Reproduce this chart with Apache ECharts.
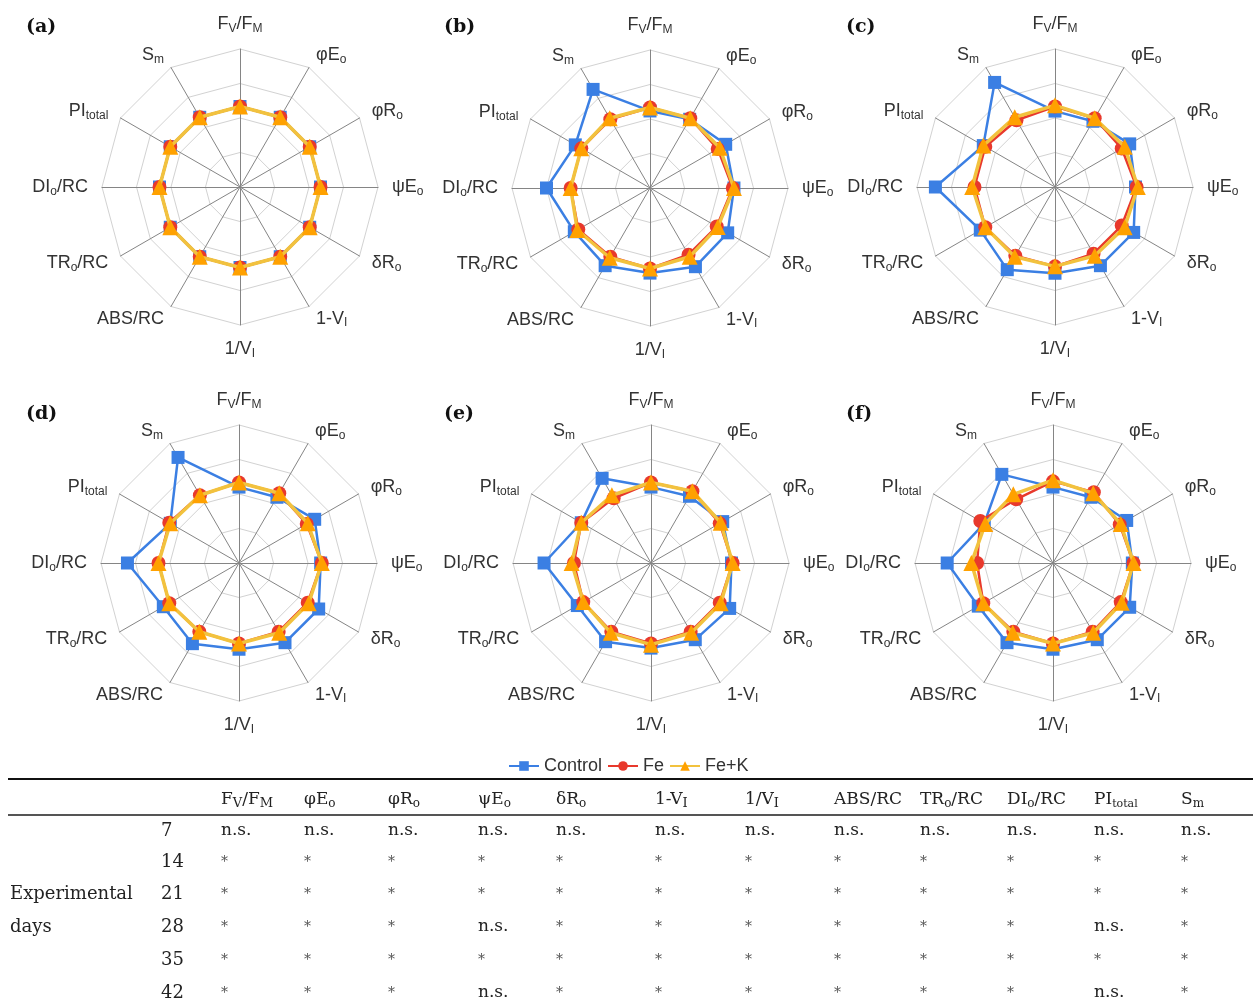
<!DOCTYPE html>
<html>
<head>
<meta charset="utf-8">
<script src="https://cdn.jsdelivr.net/npm/echarts@6/dist/echarts.min.js"></script>
<style>
  html, body { margin: 0; padding: 0; background: #fff; }
  #chart { width: 1253px; height: 1005px; }
</style>
</head>
<body>
<div id="chart"></div>
<script>
// Chlorophyll fluorescence parameters, clockwise from the top of each radar
const parameters = ['FV/FM', 'φEo', 'φRo', 'ψEo', 'δRo', '1-VI', '1/VI', 'ABS/RC', 'TRo/RC', 'DIo/RC', 'PItotal', 'Sm'];
const parameterLabels = ['F{s|V}/F{s|M}', 'φE{s|o}', 'φR{s|o}', 'ψE{s|o}', 'δR{s|o}', '1-V{s|I}', '1/V{s|I}',
                         'ABS/RC', 'TR{s|o}/RC', 'DI{s|o}/RC', 'PI{s|total}', 'S{s|m}'];
const panelLabels = ['(a)', '(b)', '(c)', '(d)', '(e)', '(f)'];
const treatments = ['Control', 'Fe', 'Fe+K'];

// Relative values per panel (same order as parameters)
const controlA = [1.00, 1.00, 1.00, 1.00, 1.00, 1.00, 1.00, 1.00, 1.00, 1.00, 1.00, 1.00];
const feA      = [1.00, 1.00, 1.00, 1.00, 1.00, 1.00, 1.00, 1.00, 1.00, 1.00, 1.00, 1.00];
const feKA     = [1.00, 1.00, 1.00, 1.00, 1.00, 1.00, 1.00, 1.00, 1.00, 1.00, 1.00, 1.00];

const controlB = [0.97, 0.99, 1.06, 1.03, 1.08, 1.09, 1.04, 1.08, 1.06, 1.20, 1.05, 1.29];
const feB      = [1.00, 1.00, 0.98, 1.02, 0.97, 0.97, 1.00, 0.99, 1.02, 0.99, 0.99, 0.99];
const feKB     = [1.00, 1.00, 1.00, 1.03, 0.98, 0.99, 1.00, 1.00, 1.03, 0.99, 0.99, 1.00];

const controlC = [0.96, 0.96, 1.05, 1.00, 1.09, 1.09, 1.05, 1.13, 1.05, 1.34, 1.02, 1.35];
const feC      = [1.00, 0.99, 0.97, 1.01, 0.97, 0.97, 0.99, 0.99, 1.00, 1.00, 1.00, 0.97];
const feKC     = [1.01, 0.99, 1.00, 1.02, 1.00, 0.99, 0.99, 1.00, 1.00, 1.02, 1.02, 1.00];

const controlD = [0.96, 0.96, 1.06, 1.01, 1.10, 1.10, 1.05, 1.11, 1.06, 1.27, 0.99, 1.36];
const feD      = [1.00, 1.00, 0.98, 1.02, 0.99, 0.99, 1.00, 0.99, 1.00, 1.00, 1.00, 0.98];
const feKD     = [1.00, 1.00, 0.99, 1.02, 1.00, 1.00, 1.00, 0.99, 1.00, 1.00, 0.99, 0.98];

const controlE = [0.96, 0.97, 1.02, 1.00, 1.09, 1.07, 1.04, 1.09, 1.04, 1.23, 1.00, 1.15];
const feE      = [1.00, 1.02, 0.99, 1.01, 0.99, 0.99, 1.00, 0.99, 0.98, 0.97, 1.00, 0.95];
const feKE     = [1.00, 1.02, 1.00, 1.01, 1.00, 1.00, 1.01, 1.00, 0.98, 0.99, 1.00, 0.98];

const controlF = [0.96, 0.96, 1.04, 0.99, 1.07, 1.07, 1.05, 1.10, 1.05, 1.22, 0.99, 1.19];
const feF      = [1.01, 1.01, 0.97, 1.00, 0.98, 0.99, 1.00, 0.99, 1.00, 0.96, 1.03, 0.94];
const feKF     = [1.02, 1.00, 0.98, 1.00, 0.99, 1.00, 1.00, 1.00, 1.00, 1.01, 0.98, 0.99];

// Radial scale shared by all panels
const axisMin = 0.3;
const axisMax = 1.5;

// Significance table
const tableHeaders = ['F{sc|V}/F{sc|M}', 'φE{s|o}', 'φR{s|o}', 'ψE{s|o}', 'δR{s|o}', '1-V{sc|I}', '1/V{sc|I}',
                      'ABS/RC', 'TR{s|o}/RC', 'DI{s|o}/RC', 'PI{st|total}', 'S{s|m}'];
const experimentalDays = ['7', '14', '21', '28', '35', '42'];
const sigDay7  = ['n.s.', 'n.s.', 'n.s.', 'n.s.', 'n.s.', 'n.s.', 'n.s.', 'n.s.', 'n.s.', 'n.s.', 'n.s.', 'n.s.'];
const sigDay14 = ['*', '*', '*', '*', '*', '*', '*', '*', '*', '*', '*', '*'];
const sigDay21 = ['*', '*', '*', '*', '*', '*', '*', '*', '*', '*', '*', '*'];
const sigDay28 = ['*', '*', '*', 'n.s.', '*', '*', '*', '*', '*', '*', 'n.s.', '*'];
const sigDay35 = ['*', '*', '*', '*', '*', '*', '*', '*', '*', '*', '*', '*'];
const sigDay42 = ['*', '*', '*', 'n.s.', '*', '*', '*', '*', '*', '*', 'n.s.', '*'];

const panels = [
  [controlA, feA, feKA],
  [controlB, feB, feKB],
  [controlC, feC, feKC],
  [controlD, feD, feKD],
  [controlE, feE, feKE],
  [controlF, feF, feKF]
];
const sigRows = [sigDay7, sigDay14, sigDay21, sigDay28, sigDay35, sigDay42];

// ---- layout ----
const radarCenters = [[240, 187], [650, 188], [1055, 187], [239, 563], [651, 563], [1053, 563]];
const radarRadius = 138;
const panelLabelPos = [[26, 18], [444, 18], [846, 18], [26, 405], [444, 405], [846, 405]];

// ECharts places indicators counter-clockwise; reorder so they read clockwise
const indicatorOrder = [0, 11, 10, 9, 8, 7, 6, 5, 4, 3, 2, 1];
const labelMap = {};
parameters.forEach((p, i) => { labelMap[p] = parameterLabels[i]; });

const styles = {
  'Control': { symbol: 'rect', size: 13, item: '#3b7fe3', line: '#3b7fe3', width: 2.5 },
  'Fe': { symbol: 'circle', size: 14, item: '#e8392c', line: '#e8392c', width: 2.5 },
  'Fe+K': { symbol: 'triangle', size: 16, item: '#ffa100', line: '#f2c23e', width: 3.5 }
};

const sansFont = 'Liberation Sans, Arial, sans-serif';
const serifFont = 'DejaVu Serif, serif';

const radars = radarCenters.map(c => ({
  center: c,
  radius: radarRadius,
  startAngle: 90,
  splitNumber: 4,
  shape: 'polygon',
  indicator: indicatorOrder.map(i => ({ name: parameters[i], min: axisMin, max: axisMax })),
  axisNameGap: 14,
  axisName: {
    formatter: (v) => labelMap[v],
    color: '#333',
    fontSize: 18,
    fontFamily: sansFont,
    lineHeight: 21,
    rich: {
      s: { fontSize: 12, lineHeight: 8, verticalAlign: 'bottom', color: '#333', fontFamily: sansFont }
    }
  },
  splitLine: { lineStyle: { color: '#d2d2d2', width: 1 } },
  splitArea: { show: false },
  axisLine: { lineStyle: { color: '#858585', width: 1 } },
  axisTick: { show: false },
  axisLabel: { show: false }
}));

const series = [];
// legend entries (line + marker icons)
treatments.forEach(name => {
  const s = styles[name];
  series.push({
    type: 'line', name: name, data: [], xAxisIndex: 0, yAxisIndex: 0,
    symbol: s.symbol, symbolSize: s.size,
    itemStyle: { color: s.item },
    lineStyle: { color: s.line, width: 2 }
  });
});
panels.forEach((panel, p) => {
  panel.forEach((values, k) => {
    const name = treatments[k];
    const s = styles[name];
    series.push({
      type: 'radar',
      name: name,
      radarIndex: p,
      symbol: s.symbol,
      symbolSize: s.size,
      z: 2 + k,
      itemStyle: { color: s.item, opacity: 1 },
      lineStyle: { color: s.line, width: s.width },
      data: [{ name: name, value: indicatorOrder.map(i => values[i]) }]
    });
  });
});

// ---- significance table ----
const tableLeft = 8;
const tableRight = 1253;
const ruleTopY = 779;
const ruleHeadY = 815;
const headerY = 800;
const rowY = [831, 862, 894, 927, 960, 993];
const colX = [221, 304, 388, 478, 556, 655, 745, 834, 920, 1007, 1094, 1181];
const dayX = 161;
const tableText = '#222';

const richTable = {
  s: { fontSize: 12, lineHeight: 8, verticalAlign: 'bottom', fill: tableText, fontFamily: serifFont },
  sc: { fontSize: 13, lineHeight: 9, verticalAlign: 'bottom', fill: tableText, fontFamily: serifFont },
  st: { fontSize: 11, lineHeight: 8, verticalAlign: 'bottom', fill: tableText, fontFamily: serifFont }
};

const graphics = [];
graphics.push({ type: 'line', shape: { x1: tableLeft, y1: ruleTopY, x2: tableRight, y2: ruleTopY },
                style: { stroke: '#111', lineWidth: 2 }, silent: true });
graphics.push({ type: 'line', shape: { x1: tableLeft, y1: ruleHeadY, x2: tableRight, y2: ruleHeadY },
                style: { stroke: '#555', lineWidth: 2 }, silent: true });
tableHeaders.forEach((h, i) => {
  graphics.push({ type: 'text', x: colX[i], y: headerY, silent: true,
    style: { text: h, fontSize: 17, fontFamily: serifFont, fill: tableText, lineHeight: 20,
             verticalAlign: 'middle', align: 'left', rich: richTable } });
});
graphics.push({ type: 'text', x: 10, y: rowY[2], silent: true,
  style: { text: 'Experimental', fontSize: 18, fontFamily: serifFont, fill: tableText, verticalAlign: 'middle' } });
graphics.push({ type: 'text', x: 10, y: rowY[3], silent: true,
  style: { text: 'days', fontSize: 18, fontFamily: serifFont, fill: tableText, verticalAlign: 'middle' } });
experimentalDays.forEach((d, r) => {
  graphics.push({ type: 'text', x: dayX, y: rowY[r], silent: true,
    style: { text: d, fontSize: 18, fontFamily: serifFont, fill: tableText, verticalAlign: 'middle' } });
  sigRows[r].forEach((v, i) => {
    graphics.push({ type: 'text', x: colX[i], y: rowY[r], silent: true,
      style: { text: v, fontSize: v === '*' ? 14 : 17, fontFamily: serifFont,
               fill: v === '*' ? '#555' : tableText, verticalAlign: 'middle' } });
  });
});

const option = {
  backgroundColor: '#ffffff',
  animation: false,
  title: panelLabels.map((t, i) => ({
    text: t, left: panelLabelPos[i][0], top: panelLabelPos[i][1], padding: 0,
    textStyle: { fontFamily: serifFont, fontWeight: 'bold', fontSize: 19, color: '#111' }
  })),
  legend: {
    data: treatments,
    left: 503, top: 752,
    itemWidth: 30, itemHeight: 12, itemGap: 5,
    selectedMode: false,
    textStyle: { fontFamily: sansFont, fontSize: 18, color: '#333' }
  },
  grid: { left: 0, top: 0, width: 1, height: 1, show: false },
  xAxis: { type: 'value', show: false },
  yAxis: { type: 'value', show: false },
  radar: radars,
  series: series,
  graphic: graphics
};

const chart = echarts.init(document.getElementById('chart'), null, { renderer: 'canvas' });
chart.setOption(option);
</script>
</body>
</html>
